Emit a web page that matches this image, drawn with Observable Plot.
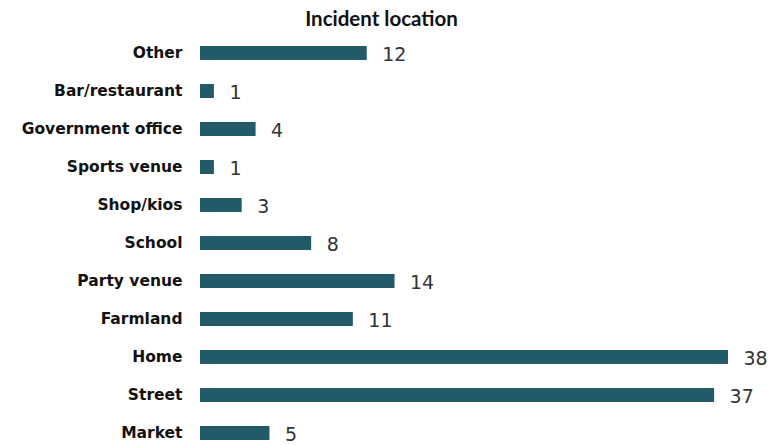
<!DOCTYPE html>
<html>
<head>
<meta charset="utf-8">
<script src="https://cdn.jsdelivr.net/npm/d3@7"></script>
<script src="https://cdn.jsdelivr.net/npm/@observablehq/plot@0.6"></script>
<style>
  body { margin: 0; background: #fff; }
</style>
</head>
<body>
<div id="chart"></div>
<script>
const categories = ["Other", "Bar/restaurant", "Government office", "Sports venue", "Shop/kios", "School", "Party venue", "Farmland", "Home", "Street", "Market"];
const counts = [12, 1, 4, 1, 3, 8, 14, 11, 38, 37, 5];
const title = "Incident location";

const data = categories.map((c, i) => ({category: c, count: counts[i]}));

const chart = Plot.plot({
  width: 773,
  height: 445,
  marginTop: 46,
  marginBottom: 4,
  marginLeft: 200,
  marginRight: 45,
  style: {background: "#fff", fontFamily: "DejaVu Sans"},
  x: {domain: [0, 38], axis: null},
  y: {domain: categories, paddingInner: 0.63, paddingOuter: 0, label: null, axis: null},
  marks: [
    Plot.text(data, {x: 0, y: "category", text: "category", textAnchor: "end", dx: -18, fontSize: 15.5, fontWeight: "bold", fill: "#111"}),
    Plot.barX(data, {x: "count", y: "category", fill: "#235a67"}),
    Plot.text(data, {x: "count", y: "category", text: d => String(d.count), textAnchor: "start", dx: 15, dy: 1.5, fontSize: 19, fill: "#333"}),
    Plot.text([title], {frameAnchor: "top", dx: -83, dy: -35, fontSize: 20.5, fontWeight: "bold", fontFamily: "Lato", fill: "#111"})
  ]
});
document.getElementById("chart").appendChild(chart);
</script>
</body>
</html>
